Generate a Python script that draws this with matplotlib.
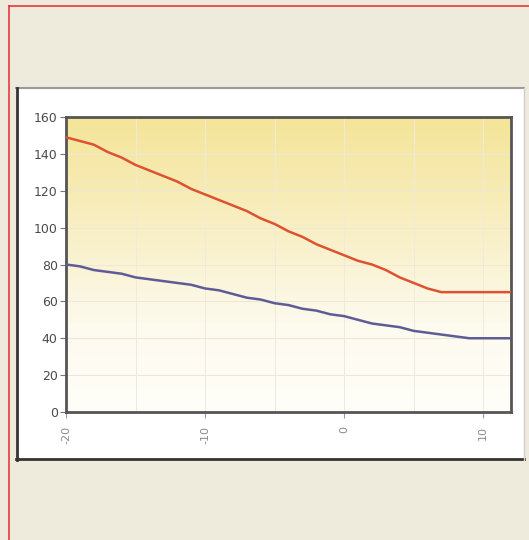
import numpy as np
import matplotlib
matplotlib.use("Agg")
import matplotlib.pyplot as plt
from matplotlib.patches import Rectangle
from matplotlib.lines import Line2D
from matplotlib.colors import LinearSegmentedColormap

x_values = list(range(-20, 13))
red_series = [149, 147, 145, 141, 138, 134, 131, 128, 125, 121, 118, 115, 112, 109, 105, 102,
              98, 95, 91, 88, 85, 82, 80, 77, 73, 70, 67, 65, 65, 65, 65, 65, 65]
blue_series = [80, 79, 77, 76, 75, 73, 72, 71, 70, 69, 67, 66, 64, 62, 61, 59,
               58, 56, 55, 53, 52, 50, 48, 47, 46, 44, 43, 42, 41, 40, 40, 40, 40]
x_ticks = [-20, -10, 0, 10]
x_tick_labels = ["-20", "-10", "0", "10"]
y_ticks = [0, 20, 40, 60, 80, 100, 120, 140, 160]

W, H = 529, 540
fig = plt.figure(figsize=(W / 100, H / 100), dpi=100)
fig.patch.set_facecolor("#EEEBDC")

def fx(px):
    return px / W

def fy(py):
    return 1 - py / H

# white panel
fig.patches.append(Rectangle((fx(16), fy(460)), fx(524) - fx(16), fy(88) - fy(460),
                             transform=fig.transFigure, facecolor="white",
                             edgecolor="none", zorder=-5))
# panel borders
fig.lines.append(Line2D([fx(16), fx(524)], [fy(88), fy(88)], transform=fig.transFigure,
                        color="#9a9a9a", lw=1.5, zorder=-4))
fig.lines.append(Line2D([fx(17), fx(17)], [fy(88), fy(460)], transform=fig.transFigure,
                        color="#333333", lw=2, zorder=-4))
fig.lines.append(Line2D([fx(16), fx(524)], [fy(459), fy(459)], transform=fig.transFigure,
                        color="#333333", lw=2, zorder=-4))
fig.lines.append(Line2D([fx(524), fx(524)], [fy(88), fy(460)], transform=fig.transFigure,
                        color="#cfcfcf", lw=1, zorder=-4))
# red page border
fig.lines.append(Line2D([fx(9), fx(9)], [fy(6), 0], transform=fig.transFigure,
                        color="#E8393A", lw=1.2, zorder=-4))
fig.lines.append(Line2D([fx(9), 1], [fy(6), fy(6)], transform=fig.transFigure,
                        color="#E8393A", lw=1.2, zorder=-4))

ax = fig.add_axes([fx(66), fy(412), fx(511) - fx(66), fy(117) - fy(412)])
ax.set_zorder(5)
ax.set_xlim(-20, 12)
ax.set_ylim(0, 160)

cmap = LinearSegmentedColormap.from_list(
    "bg", [(0.0, "#FFFEF9"), (0.3, "#FDFAEE"), (0.5, "#FAF3D4"), (0.75, "#F7EBB5"), (1.0, "#F4E598")])
grad = np.linspace(0, 1, 256).reshape(-1, 1)
ax.imshow(grad, extent=[-20, 12, 0, 160], origin="lower", aspect="auto",
          cmap=cmap, zorder=0)

for yv in y_ticks[1:-1]:
    ax.axhline(yv, color="#EDE8D6", lw=0.7, zorder=1)
for xv in [-15, -10, -5, 0, 5, 10]:
    ax.axvline(xv, color="#EFEADA", lw=0.7, zorder=1)

ax.plot(x_values, red_series, color="#DD5330", lw=1.8, zorder=3, solid_capstyle="butt")
ax.plot(x_values, blue_series, color="#5E5C96", lw=1.8, zorder=3, solid_capstyle="butt")

ax.set_xticks(x_ticks)
ax.set_xticklabels(x_tick_labels, rotation=90, color="#8a8a8a", fontsize=8)
ax.set_yticks(y_ticks)
ax.set_yticklabels([str(v) for v in y_ticks], color="#4a4a4a", fontsize=9)
ax.tick_params(axis="y", length=4, color="#777777", pad=2)
ax.tick_params(axis="x", length=4, color="#999999", pad=6)
for s in ax.spines.values():
    s.set_color("#555555")
    s.set_linewidth(2)
ax.set_facecolor("white")

fig.savefig("out.png", dpi=100, facecolor=fig.get_facecolor())
